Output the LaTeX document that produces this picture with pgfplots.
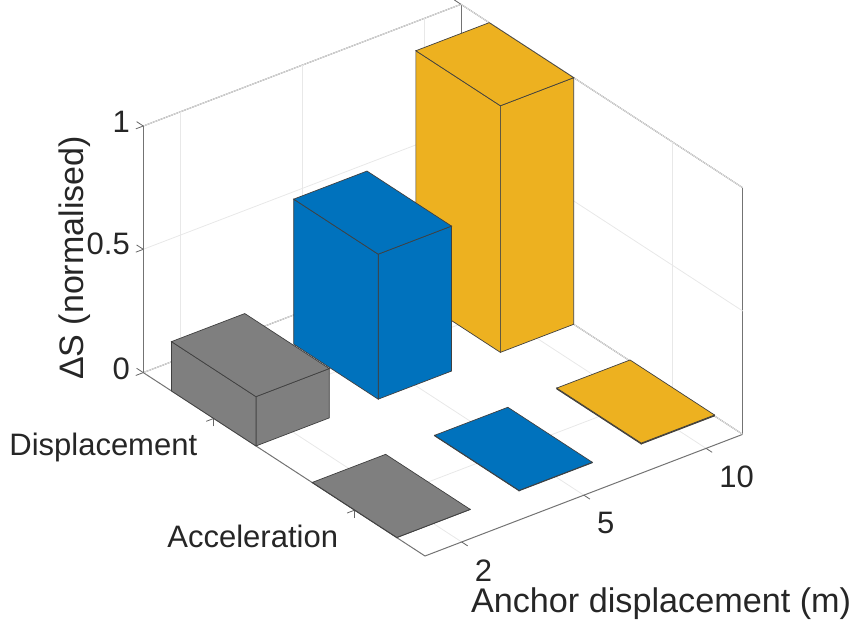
\documentclass[border=0pt]{standalone}
\usepackage{fontspec}
\setmainfont{Liberation Sans}
\usepackage{pgfplots}
\pgfplotsset{compat=1.18}

\definecolor{mgray}{HTML}{7F7F7F}
\definecolor{mblue}{HTML}{0072BD}
\definecolor{myellow}{HTML}{EDB120}
\definecolor{mtext}{HTML}{262626}

% one bar: x0, x1, y0, y1, height, colour (only the three faces that show)
\newcommand{\cuboid}[6]{%
  \addplot3[draw=black!75, line width=0.35pt, fill=#6] coordinates {(#2,#3,0) (#2,#4,0) (#2,#4,#5) (#2,#3,#5)} --cycle;
  \addplot3[draw=black!75, line width=0.35pt, fill=#6] coordinates {(#1,#3,0) (#2,#3,0) (#2,#3,#5) (#1,#3,#5)} --cycle;
  \addplot3[draw=black!75, line width=0.35pt, fill=#6] coordinates {(#1,#3,#5) (#2,#3,#5) (#2,#4,#5) (#1,#4,#5)} --cycle;
}

\begin{document}
\begin{tikzpicture}[x=0.5pt,y=0.5pt]
\begin{pgfinterruptboundingbox}
\begin{axis}[
    x={(70.425pt,-45.85pt)}, y={(61.1pt,23.4pt)}, z={(0pt,123.3pt)},
    xmin=0.5, xmax=2.5, ymin=0.7, ymax=3.3, zmin=0, zmax=1,
    xtick={1,2}, xticklabels={Displacement,Acceleration},
    ytick={1,2,3}, yticklabels={2,5,10},
    ztick={0,0.5,1}, zticklabels={0,0.5,1},
    xtick pos=lower, ytick pos=lower, ztick pos=lower,
    grid=major,
    major grid style={line width=0.4pt, color=black!9},
    axis line style={line width=0.5pt, color=black!55},
    tick style={line width=0.4pt, color=black!60},
    ytick style={draw=none},
    tick align=outside,
    major tick length=4pt,
    clip=false,
    font=\fontsize{15.5}{18}\selectfont,
    text=mtext,
    /pgf/number format/assume math mode=true,
    x tick label style={anchor=east, text height=0.75em, text depth=0.22em, xshift=-1pt, yshift=-14.5pt},
    y tick label style={anchor=north west, xshift=-0.25pt, yshift=-3pt},
    z tick label style={xshift=0.5pt, yshift=2.5pt},
    every axis y label/.style={at={(axis cs:3.43,1.56,0)}, anchor=center, yshift=-1.5pt, font=\fontsize{17.1}{20}\selectfont},
    every axis z label/.style={at={(axis cs:0.015,0.7,0.284)}, anchor=center, rotate=90, font=\fontsize{17}{20}\selectfont},
    ylabel={Anchor displacement (m)},
    zlabel={ΔS (normalised)},
]
\coordinate (floorleft) at (axis cs:0.5,0.7,0);
% y ticks, only on the front floor edge
\addplot3[draw=black!60, line width=0.4pt] coordinates {(2.5,1,0) (2.543,1,0)};
\addplot3[draw=black!60, line width=0.4pt] coordinates {(2.5,2,0) (2.543,2,0)};
\addplot3[draw=black!60, line width=0.4pt] coordinates {(2.5,3,0) (2.543,3,0)};
\cuboid{0.7}{1.3}{2.7}{3.3}{1.0}{myellow}
\cuboid{0.7}{1.3}{1.7}{2.3}{0.588}{mblue}
\cuboid{0.7}{1.3}{0.7}{1.3}{0.2}{mgray}
\cuboid{1.7}{2.3}{2.7}{3.3}{0.004}{myellow}
\cuboid{1.7}{2.3}{1.7}{2.3}{0.002}{mblue}
\cuboid{1.7}{2.3}{0.7}{1.3}{0.001}{mgray}
\end{axis}
\end{pgfinterruptboundingbox}
\path[use as bounding box] (floorleft) ++(-143.3,-248.4) rectangle ++(854,621);
\end{tikzpicture}
\end{document}
